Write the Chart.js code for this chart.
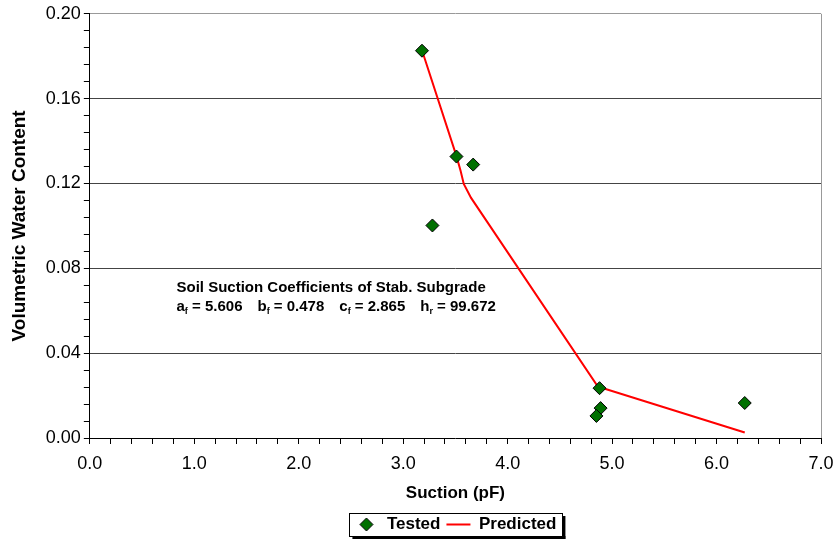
<!DOCTYPE html>
<html>
<head>
<meta charset="utf-8">
<script src="https://cdn.jsdelivr.net/npm/chart.js@4.4.0/dist/chart.umd.min.js"></script>
<style>
  html, body { margin: 0; padding: 0; background: #fff; }
  #wrap { width: 835px; height: 541px; }
</style>
</head>
<body>
<div id="wrap"><canvas id="myChart" width="835" height="541"></canvas></div>
<script>
// tested points (suction pF, volumetric water content)
const testedX = [3.18, 3.51, 3.67, 3.28, 4.88, 4.89, 4.85, 6.27];
const testedY = [0.1826, 0.1327, 0.1289, 0.1002, 0.0235, 0.0141, 0.0104, 0.0165];

// predicted curve
const predX = [3.18, 3.51, 3.55, 3.58, 3.65, 4.87, 4.93, 6.27];
const predY = [0.1828, 0.1329, 0.1259, 0.1198, 0.1132, 0.0238, 0.0232, 0.0026];

const yMajor = 0.04;
const xMajor = 1.0;

function isMajor(v, step) {
    return Math.abs(v / step - Math.round(v / step)) < 1e-6;
}

const font = 'Liberation Sans, Arial, sans-serif';

// small diamond for the legend
const diamond = document.createElement('canvas');
diamond.width = 15;
diamond.height = 15;
(function () {
    const d = diamond.getContext('2d');
    d.beginPath();
    d.moveTo(7.5, 1);
    d.lineTo(14, 7.5);
    d.lineTo(7.5, 14);
    d.lineTo(1, 7.5);
    d.closePath();
    d.fillStyle = '#007000';
    d.fill();
    d.strokeStyle = '#000';
    d.lineWidth = 1;
    d.stroke();
})();

const ctx = document.getElementById('myChart').getContext('2d');

let tested = {};
tested.label = 'Tested';
tested.data = testedX.map((x, i) => ({x: x, y: testedY[i]}));
tested.pointStyle = 'rectRot';
tested.pointRadius = 6.5;
tested.backgroundColor = '#007000';
tested.borderColor = '#000000';
tested.borderWidth = 1;
tested.showLine = false;
tested.order = 0;

let predicted = {};
predicted.label = 'Predicted';
predicted.data = predX.map((x, i) => ({x: x, y: predY[i]}));
predicted.showLine = true;
predicted.borderColor = '#ff0000';
predicted.backgroundColor = '#ff0000';
predicted.borderWidth = 2;
predicted.pointRadius = 0;
predicted.pointStyle = 'line';
predicted.tension = 0;
predicted.order = 1;

// legend frame with shadow
const legendBox = {
    id: 'legendBox',
    afterDraw(chart) {
        const lg = chart.legend;
        if (!lg || !lg.legendHitBoxes.length) return;
        const boxes = lg.legendHitBoxes;
        let l = Math.min(...boxes.map(b => b.left)) - 5;
        let r = Math.max(...boxes.map(b => b.left + b.width)) + 6;
        let t = Math.min(...boxes.map(b => b.top)) - 3;
        let btm = Math.max(...boxes.map(b => b.top + b.height)) + 3;
        const c = chart.ctx;
        c.save();
        c.fillStyle = '#000';
        c.fillRect(l + 3, btm, r - l, 3);
        c.fillRect(r, t + 3, 3, btm - t);
        c.strokeStyle = '#000';
        c.lineWidth = 1;
        c.strokeRect(Math.round(l) + 0.5, Math.round(t) + 0.5, Math.round(r - l), Math.round(btm - t));
        c.restore();
    }
};

// coefficient note
const note = {
    id: 'note',
    afterDatasetsDraw(chart) {
        const c = chart.ctx;
        const xs = chart.scales.x, ys = chart.scales.y;
        let x0 = xs.getPixelForValue(0.83);
        let y1 = ys.getPixelForValue(0.069);
        let y2 = y1 + 19;
        c.save();
        c.fillStyle = '#000';
        c.textBaseline = 'alphabetic';
        c.font = 'bold 15px ' + font;
        c.fillText('Soil Suction Coefficients of Stab. Subgrade', x0, y1);
        const parts = [['a', 'f', ' = 5.606'], ['b', 'f', ' = 0.478'], ['c', 'f', ' = 2.865'], ['h', 'r', ' = 99.672']];
        let x = x0;
        parts.forEach((p) => {
            c.font = 'bold 15px ' + font;
            c.fillText(p[0], x, y2);
            x += c.measureText(p[0]).width;
            c.font = 'bold 9px ' + font;
            c.fillText(p[1], x, y2 + 3);
            x += c.measureText(p[1]).width;
            c.font = 'bold 15px ' + font;
            c.fillText(p[2], x, y2);
            x += c.measureText(p[2]).width + 15;
        });
        c.restore();
    }
};

const myChart = new Chart(ctx, {
    type: 'scatter',
    data: {
        datasets: [tested, predicted]
    },
    options: {
        responsive: false,
        animation: false,
        layout: { padding: { top: 2, right: 1, left: 8, bottom: -2 } },
        plugins: {
            tooltip: { enabled: false },
            legend: {
                position: 'bottom',
                fullSize: false,
                labels: {
                    usePointStyle: true,
                    pointStyleWidth: 24,
                    boxHeight: 10,
                    padding: 6,
                    color: '#000',
                    font: { family: font, size: 17, weight: 'bold' },
                    generateLabels(chart) {
                        const items = Chart.defaults.plugins.legend.labels.generateLabels(chart);
                        items[0].pointStyle = diamond;
                        return items;
                    }
                }
            }
        },
        scales: {
            x: {
                type: 'linear',
                min: 0,
                max: 7,
                afterFit(scale) {
                    scale.paddingRight = 14;
                },
                ticks: {
                    stepSize: 0.2,
                    autoSkip: false,
                    maxRotation: 0,
                    color: '#000',
                    padding: 9,
                    font: { family: font, size: 18 },
                    callback: (v) => isMajor(v, xMajor) ? v.toFixed(1) : ''
                },
                grid: {
                    color: (c) => (c.tick && Math.abs(c.tick.value - 7) < 1e-6) ? '#999' : 'rgba(0,0,0,0)',
                    tickColor: '#000',
                    tickLength: 6,
                    lineWidth: 1
                },
                border: { display: true, color: '#000', width: 1 },
                title: {
                    display: true,
                    text: 'Suction (pF)',
                    color: '#000',
                    font: { family: font, size: 17, weight: 'bold' },
                    padding: { top: 0, bottom: 6 }
                }
            },
            y: {
                type: 'linear',
                min: 0,
                max: 0.2,
                ticks: {
                    stepSize: 0.008,
                    autoSkip: false,
                    color: '#000',
                    padding: 3,
                    font: { family: font, size: 18 },
                    callback: (v) => isMajor(v, yMajor) ? v.toFixed(2) : ''
                },
                grid: {
                    color: (c) => {
                        if (!c.tick) return 'rgba(0,0,0,0)';
                        const v = c.tick.value;
                        if (Math.abs(v - 0.2) < 1e-6) return '#999';
                        if (v > 1e-6 && isMajor(v, yMajor)) return '#444';
                        return 'rgba(0,0,0,0)';
                    },
                    tickColor: '#000',
                    tickLength: 6,
                    lineWidth: 1
                },
                border: { display: true, color: '#000', width: 1 },
                title: {
                    display: true,
                    text: 'Volumetric Water Content',
                    color: '#000',
                    font: { family: font, size: 19, weight: 'bold' },
                    padding: { top: 0, bottom: 12 }
                }
            }
        }
    },
    plugins: [legendBox, note]
});
</script>
</body>
</html>
